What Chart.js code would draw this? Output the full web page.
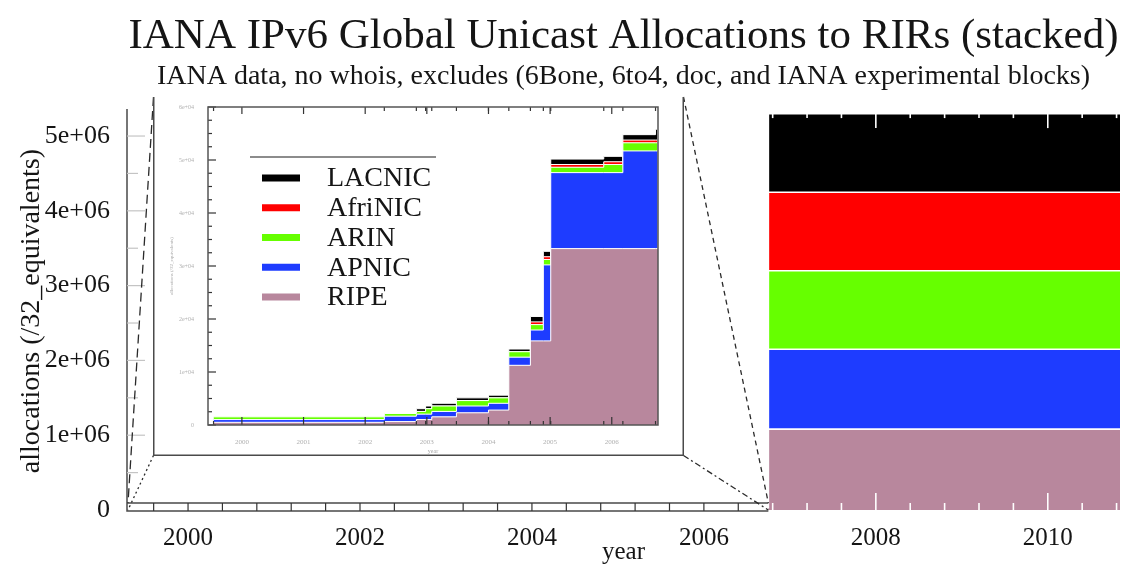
<!DOCTYPE html>
<html>
<head>
<meta charset="utf-8">
<script src="https://cdn.jsdelivr.net/npm/chart.js@4.4.0/dist/chart.umd.min.js"></script>
<style>
html,body{margin:0;padding:0;background:#fff;}
#wrap{position:relative;width:1123px;height:569px;overflow:hidden;}
#main{position:absolute;left:0;top:0;}
#inset{position:absolute;left:153px;top:97px;}
</style>
</head>
<body>
<div id="wrap">
<canvas id="main" width="1123" height="569"></canvas>
<canvas id="inset" width="531" height="359"></canvas>
</div>
<script>
const allocYears = [1999.54, 2002.31, 2002.83, 2002.98, 2003.08, 2003.48, 2004.00, 2004.33, 2004.68, 2004.89, 2005.01, 2005.87, 2006.18, 2006.71, 2006.75, 2010.84];
const ripeAlloc    = [512, 640, 1024, 1024, 1536, 2304, 2816, 11264, 15872, 15872, 33280, 33280, 33280, 33280, 1081856, 1081856];
const apnicAlloc   = [512, 1024, 1024, 1024, 1024, 1280, 1280, 1536, 2048, 14336, 14336, 14336, 18432, 18432, 1067008, 1067008];
const arinAlloc    = [512, 512, 512, 1024, 1024, 1024, 1024, 1024, 1024, 1024, 1024, 1536, 1536, 1536, 1050112, 1050112];
const afrinicAlloc = [0, 0, 0, 0, 0, 0, 0, 0, 512, 512, 512, 512, 512, 512, 1049088, 1049088];
const lacnicAlloc  = [0, 0, 512, 512, 512, 512, 512, 512, 1024, 1024, 1024, 1024, 1024, 2048, 1050624, 1050624];
const rirNames = ['RIPE', 'APNIC', 'ARIN', 'AfriNIC', 'LACNIC'];
const rirSeries = [ripeAlloc, apnicAlloc, arinAlloc, afrinicAlloc, lacnicAlloc];

// tick values
const mainYTicks = [0, 1e6, 2e6, 3e6, 4e6, 5e6];
const insetYTicks = [0, 10000, 20000, 30000, 40000, 50000, 60000];

// axis ranges
const mainX = [1999.29, 2010.84];
const mainYMax = 5.32e6;
const zoomX = [1999.45, 2006.75];
const zoomY = [0, 60000];

// ---------- styles ----------
const rirColors = ['#b8879d', '#1e3cff', '#66ff00', '#ff0000', '#000000'];
const SERIF = '"Liberation Serif", "Times New Roman", serif';
const TEXT = '#151515';

function makeDatasets(bw) {
  return rirSeries.map((vals, i) => ({
    label: rirNames[i],
    data: allocYears.map((t, j) => ({x: t, y: vals[j]})),
    backgroundColor: rirColors[i],
    borderColor: '#ffffff',
    borderWidth: bw,
    fill: i === 0 ? 'origin' : '-1',
    stepped: true,
    pointRadius: 0,
    tension: 0
  }));
}
function isEvenYear(v) { return Math.abs(v / 2 - Math.round(v / 2)) < 1e-6; }
function seg(ctx, x1, y1, x2, y2) { ctx.beginPath(); ctx.moveTo(x1, y1); ctx.lineTo(x2, y2); ctx.stroke(); }

// ---------- main chart ----------
const mainDecor = {
  id: 'mainDecor',
  afterDatasetsDraw(chart) {
    const {ctx, chartArea: a, scales: {x, y}} = chart;
    const zx1 = a.left, zx2 = x.getPixelForValue(zoomX[1]);
    const zy1 = Math.min(y.getPixelForValue(zoomY[1]), a.bottom - 7);
    ctx.save();
    // zoom window (white, bordered)
    ctx.fillStyle = '#fff';
    ctx.fillRect(zx1, zy1, zx2 - zx1, a.bottom - zy1 + 4);
    ctx.strokeStyle = '#4a4a4a'; ctx.lineWidth = 1.5;
    ctx.beginPath();
    ctx.moveTo(a.left, a.top - 3); ctx.lineTo(a.left, a.bottom + 1); ctx.lineTo(zx2, a.bottom + 1);
    ctx.moveTo(a.left, zy1); ctx.lineTo(zx2, zy1);
    ctx.stroke();
    // x ticks
    x.ticks.forEach(t => {
      const px = x.getPixelForValue(t.value);
      const major = isEvenYear(t.value);
      if (px > zx2 + 1) {
        ctx.strokeStyle = '#ffffff'; ctx.lineWidth = 1.6;
        seg(ctx, px, a.bottom, px, a.bottom - (major ? 17 : 7));
        seg(ctx, px, a.top, px, a.top + (major ? 16 : 6));
      } else if (px > a.left + 2) {
        ctx.strokeStyle = '#333'; ctx.lineWidth = 1.2;
        seg(ctx, px, a.bottom + 1, px, zy1);
      }
    });
    // y ticks (faint, inward)
    ctx.strokeStyle = '#c4c4c4'; ctx.lineWidth = 1.2;
    const yt = y.ticks.map(t => y.getPixelForValue(t.value));
    yt.forEach((py, i) => {
      if (i > 0) seg(ctx, a.left, py, a.left + 18, py);
      if (i < yt.length - 1) { const m = (py + yt[i + 1]) / 2; seg(ctx, a.left, m, a.left + 11, m); }
    });
    // connector lines from the magnified panel to the zoom window
    const ins = document.getElementById('inset');
    const L = ins.offsetLeft + 0.5, T = ins.offsetTop, R = ins.offsetLeft + ins.width - 0.5, B = ins.offsetTop + ins.height - 0.5;
    ctx.strokeStyle = '#2a2a2a'; ctx.lineWidth = 1.3;
    ctx.setLineDash([9, 5]); seg(ctx, L, T, zx1 + 1, zy1);
    ctx.setLineDash([2, 3]); seg(ctx, L, B, zx1 + 1, a.bottom);
    ctx.setLineDash([5, 4]); seg(ctx, R, T, zx2, zy1);
    ctx.setLineDash([6, 3, 2, 3]); seg(ctx, R, B, zx2, a.bottom);
    ctx.restore();
  }
};

new Chart(document.getElementById('main'), {
  type: 'line',
  data: {datasets: makeDatasets(1.6)},
  options: {
    responsive: false,
    animation: false,
    events: [],
    layout: {padding: {left: 0, right: 3, top: 0, bottom: 0}},
    plugins: {
      legend: {display: false},
      tooltip: {enabled: false},
      title: {
        display: true, fullSize: false,
        text: 'IANA IPv6 Global Unicast Allocations to RIRs (stacked)',
        color: TEXT, font: {family: SERIF, size: 43, weight: 'normal', lineHeight: 1.1},
        padding: {top: 13, bottom: 0}
      },
      subtitle: {
        display: true, fullSize: false,
        text: 'IANA data, no whois, excludes (6Bone, 6to4, doc, and IANA experimental blocks)',
        color: TEXT, font: {family: SERIF, size: 28, weight: 'normal', lineHeight: 1.1},
        padding: {top: 1, bottom: 20}
      }
    },
    scales: {
      x: {
        type: 'linear', min: mainX[0], max: mainX[1],
        grid: {display: false}, border: {display: false},
        ticks: {
          stepSize: 0.4, includeBounds: false, autoSkip: false, maxRotation: 0, padding: 5,
          color: TEXT, font: {family: SERIF, size: 25},
          callback: v => isEvenYear(v) ? String(Math.round(v)) : ''
        },
        title: {display: true, text: 'year', color: TEXT, font: {family: SERIF, size: 25}, padding: {top: 0, bottom: 2}},
        afterFit: s => { s.height = 59; }
      },
      y: {
        stacked: true, min: 0, max: mainYMax,
        grid: {display: false}, border: {display: false},
        afterBuildTicks: s => { s.ticks = mainYTicks.map(v => ({value: v})); },
        ticks: {
          autoSkip: false, padding: 9,
          color: TEXT, font: {family: SERIF, size: 26},
          callback: v => v === 0 ? '0' : (v / 1e6) + 'e+06'
        },
        title: {display: true, text: 'allocations (/32_equivalents)', color: TEXT, font: {family: SERIF, size: 28}, padding: {top: 15, bottom: 0}},
        afterFit: s => { s.width = 127; }
      }
    }
  },
  plugins: [mainDecor]
});

// ---------- magnified panel ----------
const insetBg = {
  id: 'insetBg',
  beforeDraw(chart) {
    const {ctx, width, height} = chart;
    ctx.save(); ctx.fillStyle = '#fff'; ctx.fillRect(0, 0, width, height); ctx.restore();
  }
};
const insetDecor = {
  id: 'insetDecor',
  afterDatasetsDraw(chart) {
    const {ctx, chartArea: a, scales: {x, y}, width, height} = chart;
    ctx.save();
    // ticks
    ctx.strokeStyle = '#333'; ctx.lineWidth = 1.2;
    x.ticks.forEach(t => {
      const px = x.getPixelForValue(t.value);
      seg(ctx, px, a.bottom, px, a.bottom - 8);
      seg(ctx, px, a.top, px, a.top + 7);
    });
    allocYears.forEach(v => {
      if (v <= x.min || v >= x.max) return;
      const px = x.getPixelForValue(v);
      seg(ctx, px, a.bottom, px, a.bottom - 4);
      seg(ctx, px, a.top, px, a.top + 4);
    });
    const yt = y.ticks.map(t => y.getPixelForValue(t.value));
    yt.forEach((py, i) => {
      seg(ctx, a.left, py, a.left + 8, py);
      if (i < yt.length - 1) {
        const step = (yt[i + 1] - py) / 4;
        for (let k = 1; k < 4; k++) seg(ctx, a.left, py + k * step, a.left + 4, py + k * step);
      }
    });
    // plot frame
    ctx.strokeStyle = '#555'; ctx.lineWidth = 1.5;
    ctx.strokeRect(a.left, a.top, a.right - a.left, a.bottom - a.top);
    // outer panel frame (left, bottom, right)
    ctx.strokeStyle = '#4a4a4a'; ctx.lineWidth = 1.5;
    ctx.beginPath();
    ctx.moveTo(0.75, 0); ctx.lineTo(0.75, height - 0.75); ctx.lineTo(width - 0.75, height - 0.75); ctx.lineTo(width - 0.75, 0);
    ctx.stroke();
    // legend
    ctx.strokeStyle = '#666'; ctx.lineWidth = 1.5;
    seg(ctx, a.left + 42, a.top + 50, a.left + 228, a.top + 50);
    const ds = chart.data.datasets.slice().reverse();
    ctx.font = '28px ' + SERIF; ctx.textBaseline = 'middle'; ctx.textAlign = 'left';
    ds.forEach((d, i) => {
      const cy = a.top + 71 + i * 29.75;
      ctx.fillStyle = d.backgroundColor;
      ctx.fillRect(a.left + 54, cy - 3.5, 38, 7);
      ctx.fillStyle = TEXT;
      ctx.fillText(d.label, a.left + 119, cy + 1);
    });
    ctx.restore();
  }
};

new Chart(document.getElementById('inset'), {
  type: 'line',
  data: {datasets: makeDatasets(1)},
  options: {
    responsive: false,
    animation: false,
    events: [],
    layout: {padding: {left: 0, right: 26, top: 10, bottom: 0}},
    plugins: {legend: {display: false}, tooltip: {enabled: false}},
    scales: {
      x: {
        type: 'linear', min: zoomX[0], max: zoomX[1],
        grid: {display: false}, border: {display: false},
        ticks: {stepSize: 1, includeBounds: false, autoSkip: false, maxRotation: 0, padding: 5,
          color: '#b0b0b0', font: {family: SERIF, size: 7}, callback: v => String(v)},
        title: {display: true, text: 'year', color: '#a8a8a8', font: {family: SERIF, size: 6}, padding: {top: 0, bottom: 1}},
        afterFit: s => { s.height = 31; }
      },
      y: {
        stacked: true, min: zoomY[0], max: zoomY[1],
        border: {display: false},
        grid: {display: true, drawOnChartArea: false, drawTicks: true, tickLength: 12, color: 'rgba(0,0,0,0)'},
        afterBuildTicks: s => { s.ticks = insetYTicks.map(v => ({value: v})); },
        ticks: {autoSkip: false, padding: 2,
          color: '#b0b0b0', font: {family: SERIF, size: 6}, callback: v => v === 0 ? '0' : (v / 1e4) + 'e+04'},
        title: {display: true, text: 'allocations (/32_equivalents)', color: '#a8a8a8', font: {family: SERIF, size: 5}, padding: {top: 16, bottom: 0}},
        afterFit: s => { s.width = 55; }
      }
    }
  },
  plugins: [insetBg, insetDecor]
});
</script>
</body>
</html>
